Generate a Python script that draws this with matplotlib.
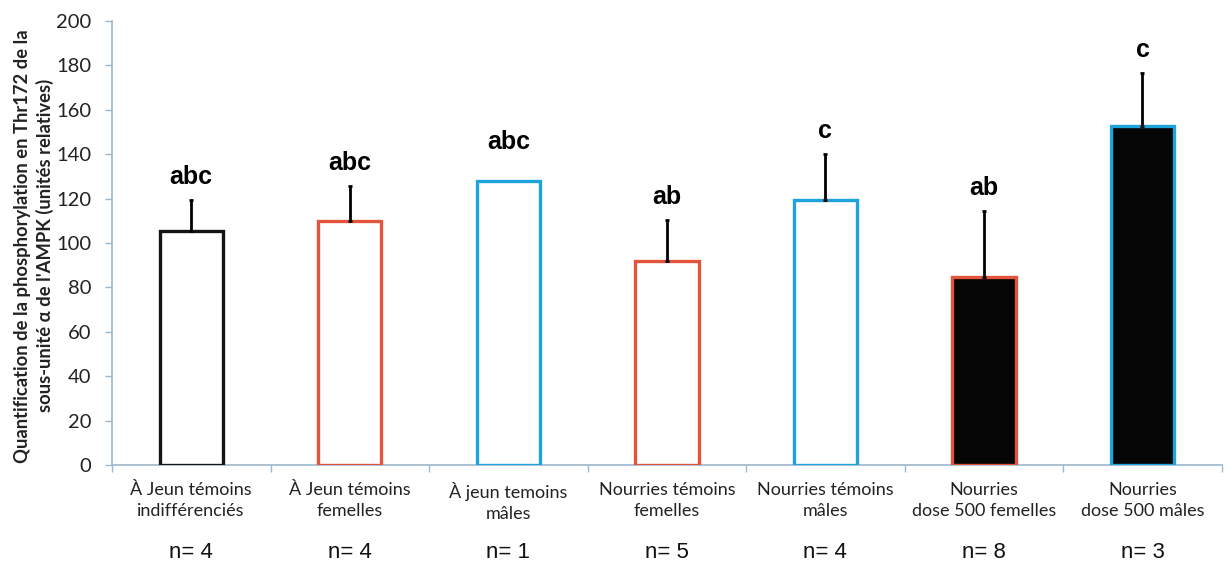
import numpy as np
import matplotlib.pyplot as plt

categories = [
    "À Jeun témoins\nindifférenciés",
    "À Jeun témoins\nfemelles",
    "À jeun temoins\nmâles",
    "Nourries témoins\nfemelles",
    "Nourries témoins\nmâles",
    "Nourries\ndose 500 femelles",
    "Nourries\ndose 500 mâles",
]
values = [105.5, 109.8, 128.0, 91.8, 119.5, 84.8, 152.5]
errors = [14.0, 16.0, 0.0, 18.6, 20.5, 29.7, 24.0]
letters = ["abc", "abc", "abc", "ab", "c", "ab", "c"]
n_labels = ["n= 4", "n= 4", "n= 1", "n= 5", "n= 4", "n= 8", "n= 3"]

edge_colors = ["#151515", "#e2553c", "#1ea3dc", "#e2553c", "#1ea3dc", "#e2553c", "#1ea3dc"]
fill_colors = ["white", "white", "white", "white", "white", "#050505", "#050505"]
letter_offsets = [8, 8, 19, 8, 8, 8, 8]  # points above the error bar

axis_col = "#9bb8cc"

fig = plt.figure(figsize=(12.29, 5.65), dpi=100)
ax = fig.add_axes([0.0911, 0.177, 0.903, 0.786])

x = np.arange(len(categories))
ax.bar(x, values, width=0.40, color=fill_colors, edgecolor=edge_colors,
       linewidth=2.4, zorder=3)

# only the upper half of the error bars is drawn
has_err = [e > 0 for e in errors]
ax.errorbar(x[has_err], np.array(values)[has_err],
            yerr=[np.zeros(sum(has_err)), np.array(errors)[has_err]],
            fmt="none", ecolor="black", elinewidth=2, capsize=1.5,
            capthick=2, zorder=4)

for xi, v, e, lab, off in zip(x, values, errors, letters, letter_offsets):
    ax.annotate(lab, (xi, v + e), xytext=(0, off), textcoords="offset points",
                ha="center", va="bottom", fontsize=18, fontweight="bold",
                family="Liberation Sans")

ax.set_xlim(-0.5, len(categories) - 0.5)
ax.set_ylim(0, 200)
ax.set_yticks(np.arange(0, 201, 20))
ax.set_xticks(x)
ax.set_xticklabels(categories, fontsize=13, family="Lato",
                   color="#222222", linespacing=1.4)
ax.tick_params(axis="x", length=0, pad=12)
ax.set_xticks(np.arange(-0.5, len(categories), 1), minor=True)
ax.tick_params(axis="x", which="minor", length=5, color=axis_col, width=1)
ax.tick_params(axis="y", length=5, color=axis_col, width=1, pad=10,
               labelsize=14.5, labelcolor="#222222")
for t in ax.get_yticklabels():
    t.set_family("Lato")

for s in ["top", "right"]:
    ax.spines[s].set_visible(False)
ax.spines["left"].set_color(axis_col)
ax.spines["bottom"].set_color(axis_col)
ax.spines["left"].set_linewidth(1.2)
ax.spines["bottom"].set_linewidth(1.2)

for xi, nl in zip(x, n_labels):
    ax.annotate(nl, (xi, 0), xycoords=("data", "axes fraction"),
                xytext=(0, -63), textcoords="offset points",
                ha="center", va="center", fontsize=16,
                family="Liberation Sans", color="#111111")

fig.text(0.0275, 0.565,
         "Quantification de la phosphorylation en Thr172 de la\n"
         "sous-unité α de l'AMPK (unités relatives)",
         rotation=90, ha="center", va="center", fontsize=13.2,
         family=["Lato", "DejaVu Sans"],
         fontweight="bold", color="#222222", linespacing=1.3)

fig.savefig("out.png", dpi=100)
